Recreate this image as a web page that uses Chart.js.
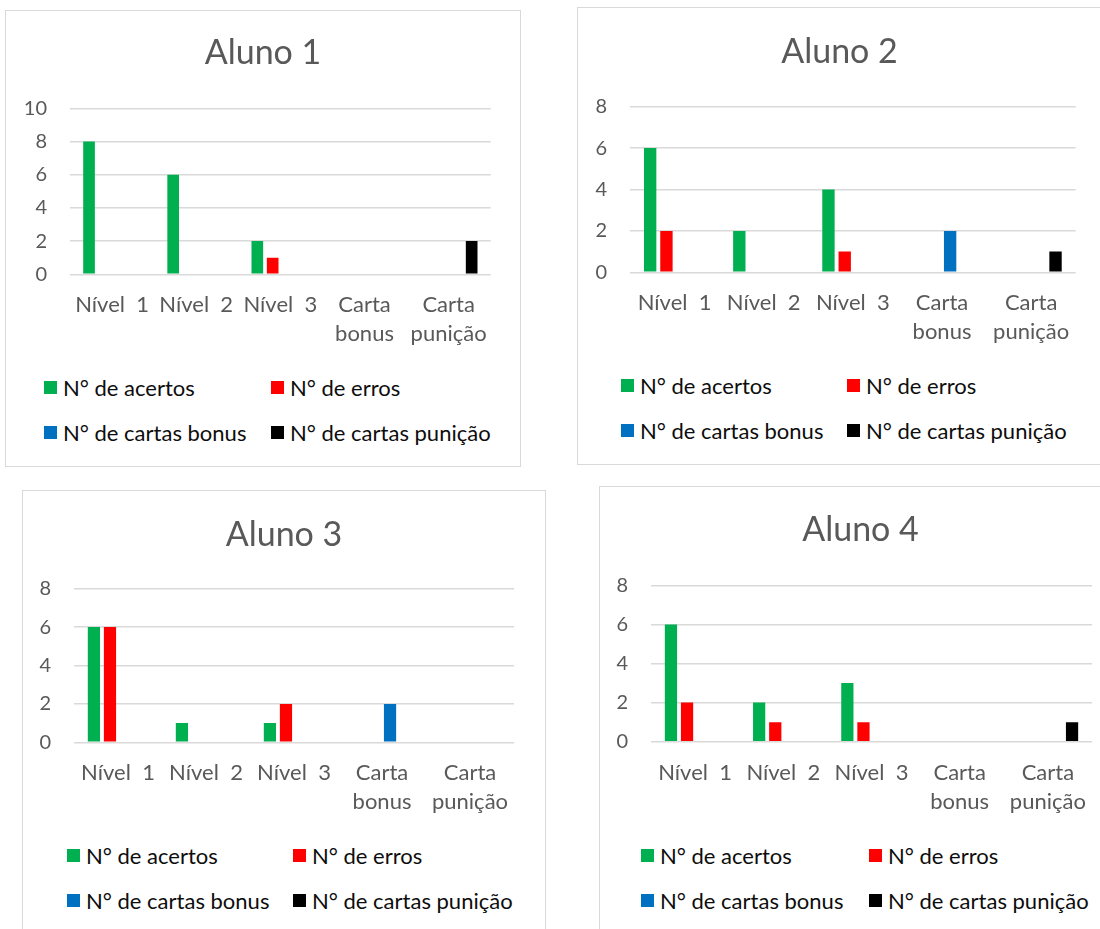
<!DOCTYPE html>
<html lang="pt">
<head>
<meta charset="utf-8">
<title>Alunos</title>
<script src="https://cdn.jsdelivr.net/npm/chart.js@4.4.1/dist/chart.umd.min.js"></script>
<style>
  html, body { margin: 0; padding: 0; background: #fff; }
  #page { position: relative; width: 1100px; height: 929px; overflow: hidden; font-family: Lato, "Open Sans", sans-serif; }
  .box { position: absolute; border: 1.5px solid #d9d9d9; box-sizing: border-box; }
  canvas { position: absolute; }
  .leg { position: absolute; height: 22px; display: flex; align-items: center; font-size: 22px; color: #0d0d0d; white-space: nowrap; }
  .leg i { display: inline-block; width: 13px; height: 13px; margin-right: 6px; flex: none; }
</style>
</head>
<body>
<div id="page"></div>
<script>
// Categories along the x axis (multi-line labels as arrays)
const categories = ['Nível  1', 'Nível  2', 'Nível  3', ['Carta', 'bonus'], ['Carta', 'punição']];

// Series shown in every panel
const seriesNames = ['N° de acertos', 'N° de erros', 'N° de cartas bonus', 'N° de cartas punição'];
const seriesColors = ['#00B050', '#FF0000', '#0070C0', '#000000'];

// Panel titles and y-axis ranges
const titles = ['Aluno 1', 'Aluno 2', 'Aluno 3', 'Aluno 4'];
const yMaxima = [10, 8, 8, 8];
const yStep = 2;

// Aluno 1
const aluno1Acertos = [8, 6, 2, 0, 0];
const aluno1Erros   = [0, 0, 1, 0, 0];
const aluno1Bonus   = [0, 0, 0, 0, 0];
const aluno1Punicao = [0, 0, 0, 0, 2];

// Aluno 2
const aluno2Acertos = [6, 2, 4, 0, 0];
const aluno2Erros   = [2, 0, 1, 0, 0];
const aluno2Bonus   = [0, 0, 0, 2, 0];
const aluno2Punicao = [0, 0, 0, 0, 1];

// Aluno 3
const aluno3Acertos = [6, 1, 1, 0, 0];
const aluno3Erros   = [6, 0, 2, 0, 0];
const aluno3Bonus   = [0, 0, 0, 2, 0];
const aluno3Punicao = [0, 0, 0, 0, 0];

// Aluno 4
const aluno4Acertos = [6, 2, 3, 0, 0];
const aluno4Erros   = [2, 1, 1, 0, 0];
const aluno4Bonus   = [0, 0, 0, 0, 0];
const aluno4Punicao = [0, 0, 0, 0, 1];

const panelValues = [
  [aluno1Acertos, aluno1Erros, aluno1Bonus, aluno1Punicao],
  [aluno2Acertos, aluno2Erros, aluno2Bonus, aluno2Punicao],
  [aluno3Acertos, aluno3Erros, aluno3Bonus, aluno3Punicao],
  [aluno4Acertos, aluno4Erros, aluno4Bonus, aluno4Punicao]
];

// Page layout of each panel: frame, plot area, title centre line, legend columns/rows
const panelLayout = [
  { box: [5, 10, 521, 467],    plot: [70, 108.3, 490.7, 274.3],  titleY: 53,  legX: [44, 271],  legY: [387, 432.5] },
  { box: [577, 7, 1102, 465],  plot: [630, 106.7, 1075.7, 272.3], titleY: 52,  legX: [621, 847], legY: [385, 430.5] },
  { box: [22, 490, 546, 960],  plot: [74, 588.7, 514, 742.3],   titleY: 535, legX: [67, 293],  legY: [855, 900] },
  { box: [599, 486, 1122, 960], plot: [651, 585.3, 1092, 741.7],  titleY: 530.5, legX: [641, 869], legY: [855.5, 900.5] }
];

const FONT = 'Lato';
const TEXT_GREY = '#595959';

function drawPanel(idx) {
  const p = panelLayout[idx];
  const page = document.getElementById('page');

  const frame = document.createElement('div');
  frame.className = 'box';
  frame.style.left = p.box[0] + 'px';
  frame.style.top = p.box[1] + 'px';
  frame.style.width = (p.box[2] - p.box[0]) + 'px';
  frame.style.height = (p.box[3] - p.box[1]) + 'px';
  page.appendChild(frame);

  const W = p.box[2] - p.box[0];
  const bottomLocal = p.plot[3] - p.box[1];
  const H = Math.round(bottomLocal + 85);
  const cv = document.createElement('canvas');
  cv.width = W; cv.height = H;
  cv.style.width = W + 'px'; cv.style.height = H + 'px';
  cv.style.left = p.box[0] + 'px';
  cv.style.top = p.box[1] + 'px';
  page.appendChild(cv);

  const leftW = p.plot[0] - p.box[0];
  const rightW = p.box[2] - p.plot[2];
  const topLocal = p.plot[1] - p.box[1];
  const tSize = 34, tLH = 1.2;
  const padTop = (p.titleY - p.box[1]) - tSize * tLH / 2;
  const padBottom = topLocal - padTop - tSize * tLH;

  new Chart(cv, {
    type: 'bar',
    data: {
      labels: categories,
      datasets: seriesNames.map((name, i) => ({
        label: name,
        data: panelValues[idx][i],
        backgroundColor: seriesColors[i],
        borderWidth: 0,
        categoryPercentage: 0.73,
        barPercentage: 0.76
      }))
    },
    options: {
      responsive: false,
      animation: false,
      devicePixelRatio: 1,
      layout: { padding: 0 },
      plugins: {
        legend: { display: false },
        tooltip: { enabled: false },
        title: {
          display: true,
          text: titles[idx],
          color: TEXT_GREY,
          font: { family: FONT, size: tSize, weight: 'normal', lineHeight: tLH },
          padding: { top: padTop, bottom: padBottom }
        }
      },
      scales: {
        x: {
          grid: { display: false },
          border: { display: false },
          ticks: {
            color: TEXT_GREY,
            font: { family: FONT, size: 22, lineHeight: 29 / 22 },
            padding: 8.5,
            maxRotation: 0,
            autoSkip: false
          },
          afterFit(s) { s.height = H - bottomLocal; }
        },
        y: {
          min: 0,
          max: yMaxima[idx],
          ticks: { stepSize: yStep, color: TEXT_GREY, font: { family: FONT, size: 20 }, padding: 23 },
          grid: { color: '#d9d9d9', lineWidth: 1.5, drawTicks: false },
          border: { display: false },
          afterFit(s) { s.width = leftW; }
        },
        rightGap: {
          position: 'right',
          display: true,
          grid: { display: false },
          border: { display: false },
          ticks: { display: false },
          afterFit(s) { s.width = rightW; }
        }
      }
    }
  });

  // Two-by-two legend under the plot
  seriesNames.forEach((name, i) => {
    const item = document.createElement('div');
    item.className = 'leg';
    item.style.left = p.legX[i % 2] + 'px';
    item.style.top = (p.legY[Math.floor(i / 2)] - 11) + 'px';
    const sw = document.createElement('i');
    sw.style.background = seriesColors[i];
    item.appendChild(sw);
    item.appendChild(document.createTextNode(name));
    page.appendChild(item);
  });
}

for (let i = 0; i < 4; i++) drawPanel(i);
</script>
</body>
</html>
